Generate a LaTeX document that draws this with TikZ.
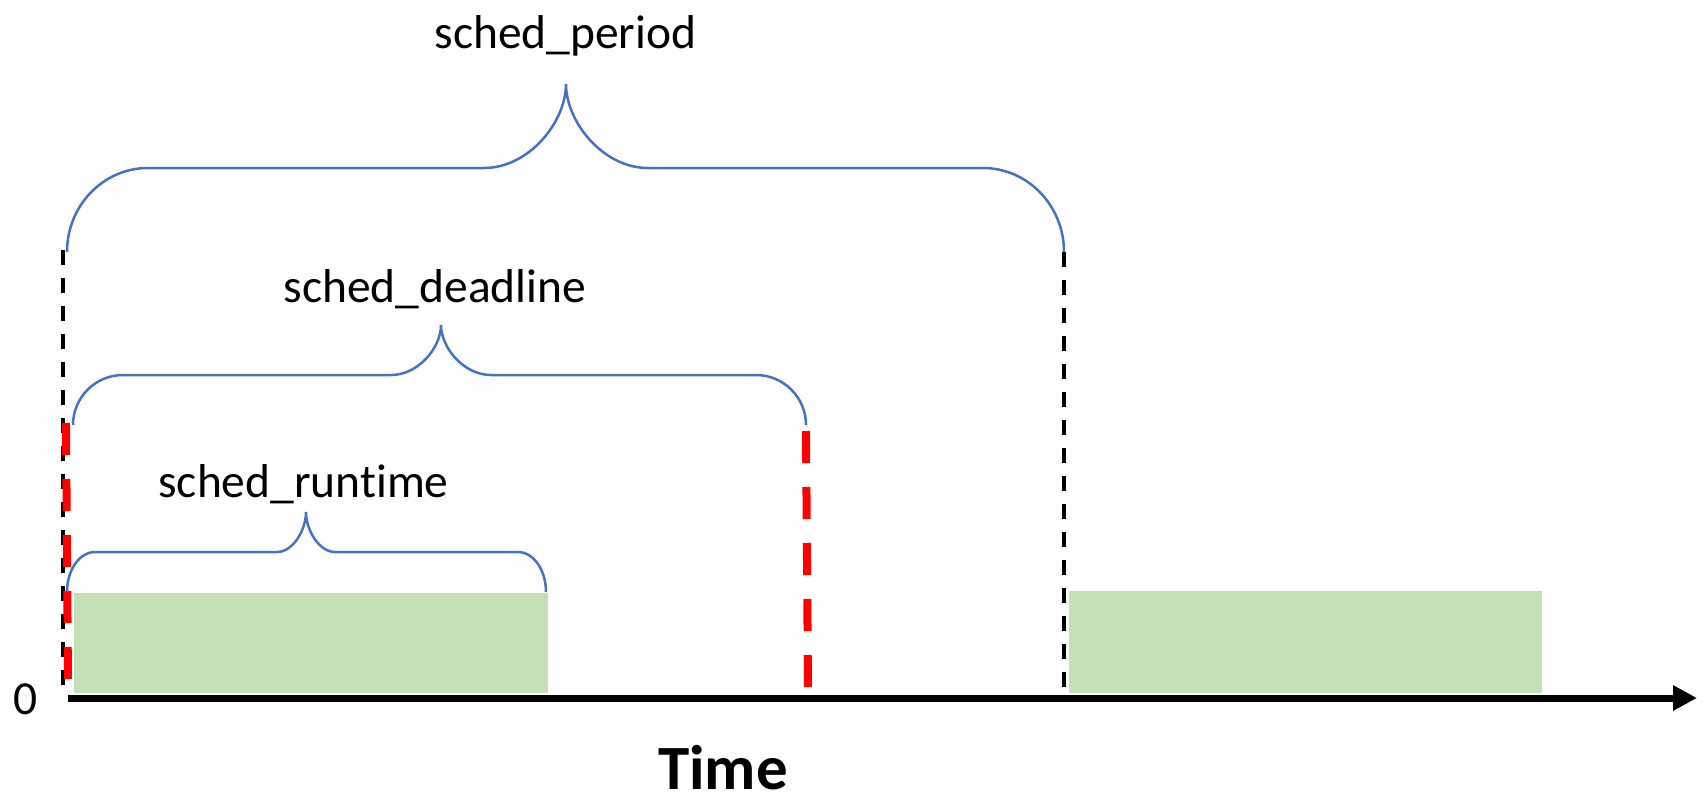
\documentclass[tikz,border=0pt]{standalone}
\usepackage{fontspec}
\setmainfont{Carlito}[Ligatures={NoCommon},Contextuals={NoAlternate}]
\usetikzlibrary{arrows.meta}
\definecolor{braceblue}{HTML}{4472C4}
\definecolor{boxgreen}{HTML}{C5E0B4}
% #1 left x, #2 tip x, #3 right x, #4 horizontal y, #5 end y, #6 tip y, #7 corner radius, #8 middle radius
\newcommand\schedbrace[8]{%
  \draw[bracepath] ({#1},{#5})
    .. controls ({#1},{#5+0.5523*(#4-#5)}) and ({#1+0.4477*#7},{#4}) .. ({#1+#7},{#4})
    -- ({#2-#8},{#4})
    .. controls ({#2-0.4477*#8},{#4}) and ({#2},{#4+0.5523*(#6-#4)}) .. ({#2},{#6})
    .. controls ({#2},{#4+0.5523*(#6-#4)}) and ({#2+0.4477*#8},{#4}) .. ({#2+#8},{#4})
    -- ({#3-#7},{#4})
    .. controls ({#3-0.4477*#7},{#4}) and ({#3},{#5+0.5523*(#4-#5)}) .. ({#3},{#5});%
}
\begin{document}
\begin{tikzpicture}[x=0.5pt,y=-0.5pt,
  lbl/.style={font=\fontsize{23.75}{28}\selectfont, inner sep=0pt, anchor=base},
  timelbl/.style={font=\fontsize{31.5}{32}\selectfont\bfseries, inner sep=0pt, anchor=base},
  bracepath/.style={draw=braceblue, line width=1.25pt},
  guide/.style={draw=black, line width=2pt, dash pattern=on 7.5pt off 6.5pt},
  redguide/.style={draw=red, line width=4pt, dash pattern=on 16pt off 12pt},
  slot/.style={fill=boxgreen, draw=none},
  axisline/.style={draw=black, line width=3.5pt, -{Triangle[length=12pt,width=12pt]}}]
\useasboundingbox (0,0) rectangle (1703,799);

% execution slots
\fill[slot] (74,593) rectangle (548,693);
\fill[slot] (1069,591) rectangle (1542,693);

% coordinates
\coordinate (p0top) at (63,250);
\coordinate (p0bot) at (63,690);
\coordinate (p1top) at (1064,252);
\coordinate (p1bot) at (1064,690);
\coordinate (r0top) at (66,423);
\coordinate (r0bot) at (68,682);
\coordinate (d0top) at (806,431);
\coordinate (d0bot) at (808,690);
\coordinate (axstart) at (68,698);
\coordinate (axend) at (1697,698);

% guides
\draw[guide] (p0top) -- (p0bot);
\draw[guide] (p1top) -- (p1bot);
\draw[redguide] (r0top) -- (r0bot);
\draw[redguide] (d0top) -- (d0bot);

% axis
\draw[axisline] (axstart) -- (axend);

% braces
\schedbrace{67}{566}{1064}{168}{252}{84}{81}{82}
\schedbrace{73}{441}{806}{375}{425}{325}{50}{50}
\schedbrace{67}{306}{546}{552}{592}{512}{28}{29}

% labels
\node[lbl] (period) at (565.5,48) {sched\_period};
\node[lbl] (deadline) at (435,302) {sched\_deadline};
\node[lbl] (runtime) at (303.5,497) {sched\_runt\kern0pt ime};
\node[lbl] (zero) at (26,714) {0};
\node[timelbl] (time) at (723,789) {Time};
\end{tikzpicture}
\end{document}
